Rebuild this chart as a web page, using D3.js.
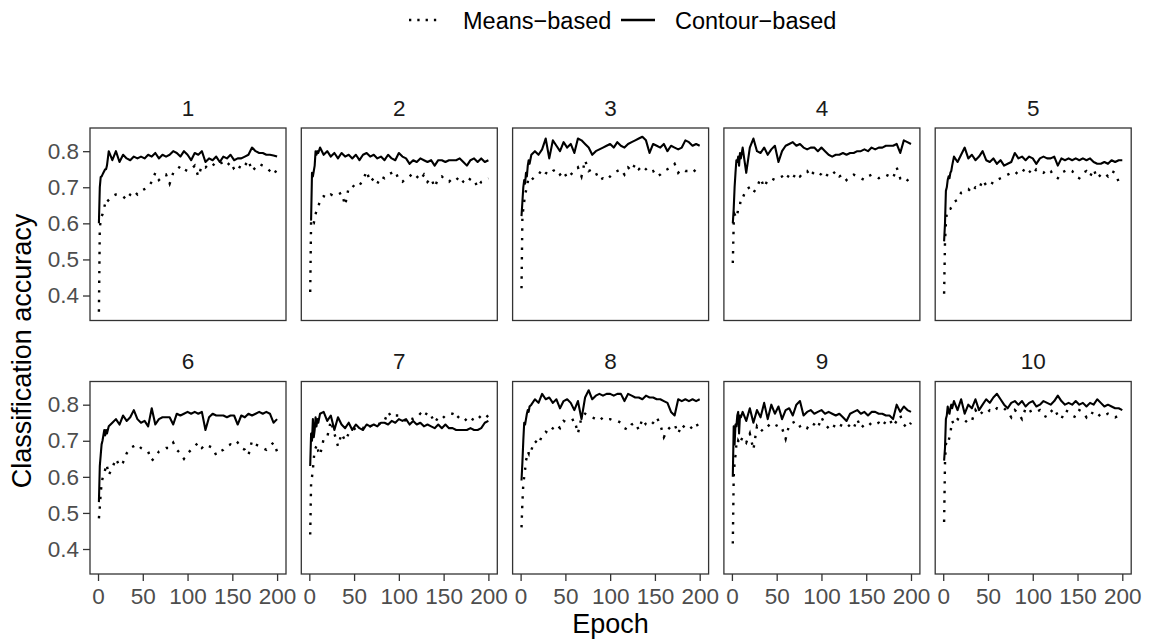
<!DOCTYPE html>
<html><head><meta charset="utf-8">
<script src="https://cdn.jsdelivr.net/npm/d3@7"></script>
<style>body{margin:0;background:#fff} svg{display:block;font-family:"Liberation Sans",Arial,Helvetica,sans-serif}</style>
</head><body>
<svg id="chart" width="1149" height="643"></svg>
<script>
// ---- data ----
const epochs = [1,2,3,4,5,6,7,8,9,10,12,16,20,24,28,32,36,40,44,48,52,56,60,64,68,72,76,80,84,88,92,96,100,104,108,112,116,120,124,128,132,136,140,144,148,152,156,160,164,168,172,176,180,184,188,192,196,200];
const panelLabels = ["1","2","3","4","5","6","7","8","9","10"];
const seriesNames = ["Means\u2212based","Contour\u2212based"];
const yTicks = [0.4,0.5,0.6,0.7,0.8];
const xTicks = [0,50,100,150,200];

const contour1 = [.60,.70,.728,.73,.735,.74,.745,.75,.75,.76,.80,.775,.80,.77,.79,.78,.775,.785,.78,.785,.78,.79,.785,.795,.78,.79,.785,.79,.80,.795,.785,.80,.79,.775,.795,.79,.80,.77,.78,.775,.785,.77,.785,.78,.79,.775,.78,.78,.785,.79,.81,.80,.795,.795,.79,.79,.788,.785];
const means1 = [.355,.59,.605,.62,.625,.64,.645,.655,.65,.66,.665,.675,.68,.68,.675,.665,.68,.69,.68,.69,.695,.70,.715,.74,.72,.73,.735,.71,.74,.745,.76,.75,.745,.75,.76,.73,.76,.755,.765,.76,.77,.765,.77,.76,.77,.75,.745,.765,.76,.775,.745,.755,.765,.76,.755,.745,.735,.75];

const contour2 = [.61,.61,.74,.73,.745,.76,.80,.79,.80,.795,.81,.79,.80,.785,.795,.78,.795,.785,.79,.78,.79,.775,.79,.795,.785,.79,.78,.785,.775,.79,.78,.775,.795,.785,.78,.765,.775,.77,.78,.775,.77,.775,.76,.775,.775,.77,.775,.775,.775,.78,.77,.76,.775,.78,.77,.78,.77,.775];
const means2 = [.41,.61,.605,.60,.60,.615,.625,.635,.64,.645,.665,.675,.67,.68,.675,.68,.685,.65,.70,.70,.71,.705,.72,.745,.715,.725,.71,.73,.725,.735,.74,.745,.72,.715,.725,.73,.74,.73,.72,.735,.715,.725,.70,.725,.73,.72,.715,.725,.72,.73,.715,.71,.725,.72,.70,.715,.72,.725];

const contour3 = [.62,.66,.70,.72,.71,.74,.73,.76,.775,.765,.79,.80,.79,.805,.835,.78,.83,.815,.80,.825,.81,.82,.795,.835,.83,.82,.81,.79,.80,.805,.81,.815,.82,.81,.825,.815,.81,.82,.825,.83,.835,.84,.83,.795,.82,.815,.81,.82,.80,.815,.81,.805,.81,.83,.825,.815,.82,.815];
const means3 = [.42,.62,.64,.66,.68,.69,.70,.715,.725,.72,.72,.73,.735,.75,.74,.735,.745,.75,.735,.745,.725,.735,.745,.755,.73,.775,.745,.75,.74,.72,.725,.72,.73,.74,.745,.75,.735,.755,.745,.765,.75,.76,.75,.74,.745,.73,.735,.745,.75,.755,.765,.74,.75,.745,.745,.74,.75,.745];

const contour4 = [.60,.64,.70,.74,.775,.77,.785,.76,.795,.78,.81,.74,.81,.835,.80,.795,.81,.79,.805,.815,.77,.80,.815,.82,.825,.815,.82,.81,.805,.81,.81,.80,.81,.80,.79,.785,.79,.79,.795,.79,.795,.795,.80,.80,.805,.80,.81,.805,.81,.81,.815,.815,.815,.82,.795,.83,.825,.82];
const means4 = [.49,.60,.625,.62,.63,.625,.64,.645,.65,.67,.67,.695,.70,.685,.70,.725,.70,.72,.725,.72,.725,.73,.72,.735,.725,.74,.73,.74,.745,.73,.745,.74,.735,.725,.74,.735,.745,.73,.735,.72,.73,.735,.73,.725,.72,.73,.735,.73,.725,.73,.735,.73,.725,.755,.725,.73,.72,.71];

const contour5 = [.55,.60,.69,.70,.72,.73,.725,.74,.745,.76,.785,.77,.79,.81,.78,.79,.775,.785,.80,.775,.77,.78,.765,.775,.76,.765,.77,.795,.78,.785,.775,.785,.78,.765,.78,.785,.78,.78,.785,.76,.78,.775,.78,.775,.78,.775,.78,.775,.78,.77,.765,.765,.77,.765,.775,.77,.775,.775];
const means5 = [.405,.55,.60,.63,.635,.635,.64,.64,.645,.65,.66,.665,.685,.69,.695,.685,.70,.695,.72,.705,.715,.71,.72,.725,.73,.735,.74,.735,.745,.74,.755,.745,.735,.75,.745,.74,.75,.745,.73,.725,.74,.745,.75,.745,.73,.725,.74,.745,.73,.75,.725,.735,.74,.73,.745,.74,.715,.71];

const contour6 = [.53,.63,.66,.69,.70,.715,.73,.715,.73,.72,.74,.75,.76,.745,.77,.755,.765,.785,.76,.75,.755,.74,.79,.745,.76,.765,.765,.765,.745,.775,.77,.775,.78,.775,.78,.775,.78,.73,.765,.775,.77,.77,.77,.765,.77,.77,.745,.77,.765,.775,.77,.775,.78,.775,.78,.775,.75,.76];
const means6 = [.485,.515,.555,.58,.595,.605,.61,.62,.635,.63,.605,.625,.65,.63,.64,.665,.68,.685,.69,.68,.675,.67,.645,.655,.67,.675,.68,.68,.695,.675,.665,.65,.665,.675,.685,.695,.68,.69,.685,.68,.66,.67,.675,.685,.69,.685,.695,.68,.675,.66,.70,.69,.685,.68,.675,.685,.695,.67];

const contour7 = [.63,.72,.70,.76,.71,.73,.765,.74,.76,.75,.775,.78,.755,.77,.73,.765,.745,.735,.75,.73,.745,.735,.73,.745,.74,.745,.74,.75,.75,.745,.755,.75,.76,.755,.76,.745,.755,.745,.75,.74,.745,.74,.735,.745,.735,.745,.735,.735,.73,.73,.73,.73,.735,.73,.73,.735,.75,.755];
const means7 = [.44,.585,.60,.62,.65,.675,.68,.685,.69,.67,.66,.705,.71,.755,.72,.685,.72,.70,.72,.73,.735,.74,.735,.745,.74,.745,.75,.745,.755,.78,.765,.77,.77,.76,.755,.765,.76,.765,.775,.765,.78,.77,.75,.765,.76,.77,.775,.775,.76,.77,.765,.755,.75,.765,.76,.77,.775,.765];

const contour8 = [.59,.64,.70,.75,.745,.76,.775,.785,.78,.795,.80,.815,.805,.83,.815,.82,.805,.815,.79,.81,.815,.805,.785,.81,.76,.82,.84,.815,.825,.83,.825,.83,.83,.825,.83,.83,.81,.83,.825,.82,.82,.815,.825,.82,.82,.815,.815,.81,.805,.78,.77,.815,.81,.815,.81,.815,.81,.815];
const means8 = [.46,.53,.58,.60,.62,.645,.655,.67,.665,.68,.675,.70,.69,.715,.725,.72,.735,.745,.735,.755,.75,.755,.76,.72,.765,.775,.77,.765,.76,.755,.765,.76,.76,.755,.755,.75,.735,.73,.745,.75,.73,.76,.745,.74,.75,.765,.745,.71,.73,.74,.745,.72,.745,.735,.73,.74,.75,.73];

const contour9 = [.60,.74,.69,.745,.74,.77,.78,.72,.77,.765,.78,.755,.79,.75,.785,.765,.805,.76,.80,.775,.795,.76,.785,.79,.77,.80,.81,.77,.78,.785,.775,.78,.785,.775,.78,.775,.77,.775,.765,.755,.775,.78,.785,.775,.78,.77,.78,.78,.775,.775,.77,.77,.76,.80,.78,.795,.785,.78];
const means9 = [.415,.60,.64,.66,.69,.685,.70,.695,.705,.70,.71,.695,.72,.675,.74,.725,.735,.745,.735,.74,.745,.735,.705,.745,.75,.755,.74,.745,.735,.75,.745,.735,.765,.745,.735,.73,.75,.745,.74,.735,.745,.735,.76,.735,.745,.74,.75,.745,.75,.74,.755,.76,.74,.755,.77,.745,.735,.75];

const contour10 = [.645,.68,.76,.77,.795,.78,.775,.79,.80,.79,.81,.785,.815,.775,.80,.79,.815,.785,.80,.815,.805,.82,.83,.815,.80,.79,.805,.81,.80,.81,.795,.805,.81,.795,.80,.81,.805,.80,.81,.825,.81,.80,.805,.80,.81,.80,.805,.795,.805,.80,.815,.805,.795,.80,.795,.79,.79,.785];
const means10 = [.475,.64,.69,.70,.705,.70,.71,.72,.74,.755,.745,.76,.755,.75,.76,.755,.785,.77,.78,.775,.785,.78,.79,.785,.79,.78,.765,.785,.775,.76,.79,.78,.785,.78,.785,.77,.765,.78,.79,.77,.76,.785,.78,.77,.765,.785,.78,.765,.78,.775,.765,.775,.77,.775,.77,.765,.77,.765];

const contourRuns = [contour1,contour2,contour3,contour4,contour5,contour6,contour7,contour8,contour9,contour10];
const meansRuns = [means1,means2,means3,means4,means5,means6,means7,means8,means9,means10];

// ---- layout ----
const svg = d3.select("#chart");
const panelW = 196, panelH = 192.5;
const colLeft = i => 90 + i * 211.3;
const rowTop = [128, 381.5];
const ink = "#000000", gridInk = "#333333", tickText = "#4d4d4d";
const FONT = '"Liberation Sans",Arial,Helvetica,sans-serif';

const allVals = contourRuns.flat().concat(meansRuns.flat());
const [vmin, vmax] = d3.extent(allVals);
const ypad = (vmax - vmin) * 0.05;
const xlo = d3.min(epochs), xhi = d3.max(epochs), xpad = (xhi - xlo) * 0.05;

const x = d3.scaleLinear().domain([xlo - xpad, xhi + xpad]).range([0, panelW]);
const y = d3.scaleLinear().domain([vmin - ypad, vmax + ypad]).range([panelH, 0]);

const toPts = arr => epochs.slice(0, arr.length).map((e, i) => [e, arr[i]]);
const line = d3.line().x(d => x(d[0])).y(d => y(d[1]));

function styleAxis(ax) {
  ax.attr("font-family", FONT).attr("font-size", 22.5);
  ax.select(".domain").remove();
  ax.selectAll(".tick line").attr("stroke", gridInk).attr("stroke-width", 1.3);
  ax.selectAll(".tick text").attr("fill", tickText);
}

panelLabels.forEach((lab, p) => {
  const col = p % 5, row = Math.floor(p / 5);
  const g = svg.append("g").attr("transform", `translate(${colLeft(col)},${rowTop[row]})`);

  // strip label
  g.append("text").attr("x", panelW / 2).attr("y", -12.5)
    .attr("text-anchor", "middle").attr("font-size", 22.5).attr("fill", "#1a1a1a").text(lab);

  const clipId = "clip" + p;
  g.append("clipPath").attr("id", clipId).append("rect").attr("width", panelW).attr("height", panelH);
  const plot = g.append("g").attr("clip-path", `url(#${clipId})`);

  plot.append("path").datum(toPts(meansRuns[p])).attr("d", line)
    .attr("fill", "none").attr("stroke", ink).attr("stroke-width", 2.4)
    .attr("stroke-dasharray", "2.4 7.2");
  plot.append("path").datum(toPts(contourRuns[p])).attr("d", line)
    .attr("fill", "none").attr("stroke", ink).attr("stroke-width", 2.1).attr("stroke-linejoin", "round");

  // panel border
  g.append("rect").attr("width", panelW).attr("height", panelH)
    .attr("fill", "none").attr("stroke", gridInk).attr("stroke-width", 1.3);

  if (col === 0) {
    const ax = g.append("g").call(d3.axisLeft(y).tickValues(yTicks).tickSize(7).tickPadding(4).tickFormat(d3.format(".1f")));
    styleAxis(ax);
  }
  if (row === 1) {
    const ax = g.append("g").attr("transform", `translate(0,${panelH})`)
      .call(d3.axisBottom(x).tickValues(xTicks).tickSize(7).tickPadding(7));
    styleAxis(ax);
  }
});

// axis titles
svg.append("text").attr("x", (colLeft(0) + colLeft(4) + panelW) / 2).attr("y", 633)
  .attr("text-anchor", "middle").attr("font-size", 27).attr("fill", ink).text("Epoch");
svg.append("text").attr("transform", `translate(31,${(rowTop[0] + rowTop[1] + panelH) / 2}) rotate(-90)`)
  .attr("text-anchor", "middle").attr("font-size", 27).attr("fill", ink).text("Classification accuracy");

// legend
const lg = svg.append("g").attr("transform", "translate(0,20)");
lg.append("line").attr("x1", 409).attr("x2", 441).attr("y1", 0).attr("y2", 0)
  .attr("stroke", ink).attr("stroke-width", 2.3).attr("stroke-dasharray", "2.3 6");
lg.append("text").attr("x", 463).attr("y", 8.5).attr("font-size", 23.5).attr("fill", ink).text(seriesNames[0]);
lg.append("line").attr("x1", 621).attr("x2", 655).attr("y1", 0).attr("y2", 0)
  .attr("stroke", ink).attr("stroke-width", 2.3);
lg.append("text").attr("x", 675).attr("y", 8.5).attr("font-size", 23.5).attr("fill", ink).text(seriesNames[1]);
</script>
</body></html>
